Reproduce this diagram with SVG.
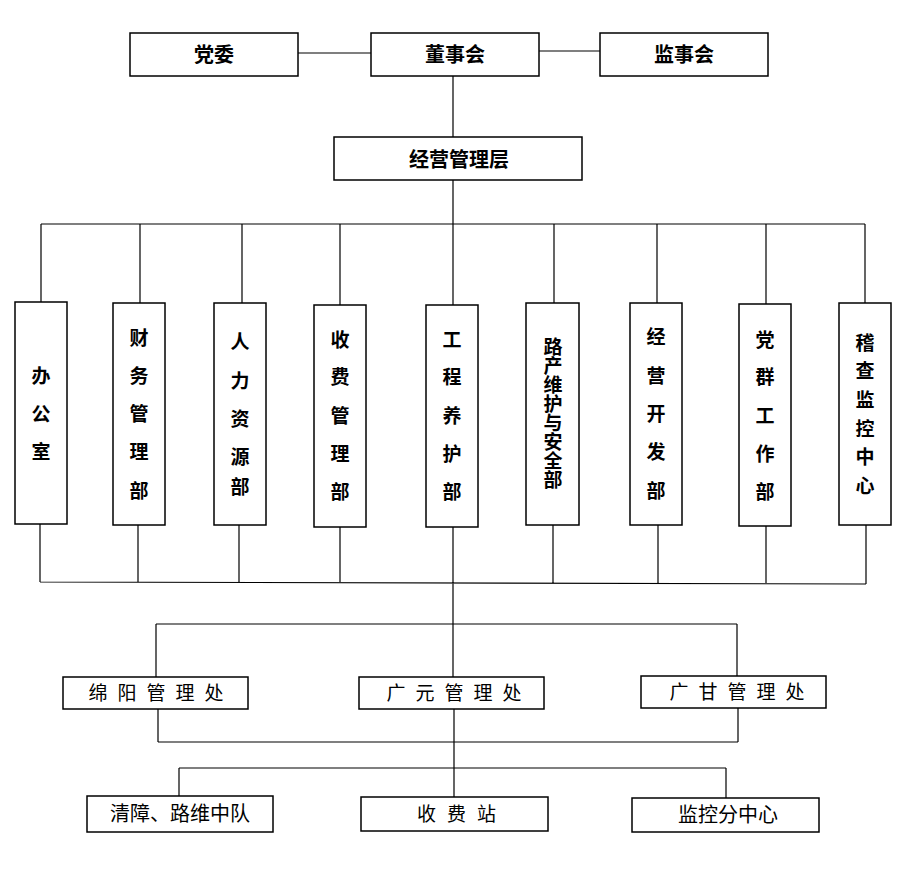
<svg xmlns="http://www.w3.org/2000/svg" width="908" height="871" viewBox="0 0 908 871">
<style>
.box{fill:#fff;stroke:#000;stroke-width:1.5}
.ln{fill:none;stroke:#000;stroke-width:1.2}
.tb{font-family:"Noto Sans CJK SC","Liberation Sans",sans-serif;font-weight:bold;font-size:20px;text-anchor:middle;fill:#000}
.tv{font-family:"Noto Sans CJK SC","Liberation Sans",sans-serif;font-weight:bold;font-size:19px;text-anchor:middle;fill:#000}
.tr{font-family:"Noto Sans CJK SC","Liberation Sans",sans-serif;font-weight:normal;font-size:19px;text-anchor:middle;fill:#000}
</style>
<rect width="908" height="871" fill="#fff"/>
<g id="connectors">
<path class="ln" d="M298 53H371M539 51H600M453 76V137M453 180V224M41 224H865M41 224V302M140 224V303M242 224V303M340 224V305M453 224V305M554 224V303M657 224V303M766 224V304M865 224V303"/>
<path class="ln" d="M40 524V582M138 525V582M239 525V582M340 527V582M453 527V624M553 525V583M658 525V583M766 526V583M866 525V584M40 582L866 584"/>
<path class="ln" d="M156 624H737M156 624V677M737 624V676M453 624V677"/>
<path class="ln" d="M158 709V742M738 708V742M158 742H738M454 709V797M179 768H726M179 768V796M726 768V798"/>
</g>
<g id="dangwei"><rect class="box" x="130" y="33" width="168" height="43"/><text class="tb" x="214" y="62">党委</text></g>
<g id="dongshihui"><rect class="box" x="371" y="33" width="168" height="43"/><text class="tb" x="455" y="62">董事会</text></g>
<g id="jianshihui"><rect class="box" x="600" y="33" width="168" height="43"/><text class="tb" x="684" y="62">监事会</text></g>
<g id="jingying"><rect class="box" x="334" y="137" width="248" height="43"/><text class="tb" x="459" y="167">经营管理层</text></g>
<g id="bangongshi"><rect class="box" x="15" y="302" width="52" height="222"/><text class="tv"><tspan x="41" y="383">办</tspan><tspan x="41" y="421">公</tspan><tspan x="41" y="459">室</tspan></text></g>
<g id="caiwu"><rect class="box" x="113" y="303" width="52" height="222"/><text class="tv"><tspan x="139" y="345">财</tspan><tspan x="139" y="383">务</tspan><tspan x="139" y="421">管</tspan><tspan x="139" y="459">理</tspan><tspan x="139" y="498">部</tspan></text></g>
<g id="renli"><rect class="box" x="214" y="303" width="52" height="222"/><text class="tv"><tspan x="240" y="349">人</tspan><tspan x="240" y="388">力</tspan><tspan x="240" y="426">资</tspan><tspan x="240" y="464">源</tspan><tspan x="240" y="494">部</tspan></text></g>
<g id="shoufei"><rect class="box" x="314" y="305" width="52" height="222"/><text class="tv"><tspan x="340" y="347">收</tspan><tspan x="340" y="384">费</tspan><tspan x="340" y="423">管</tspan><tspan x="340" y="461">理</tspan><tspan x="340" y="499">部</tspan></text></g>
<g id="gongcheng"><rect class="box" x="426" y="305" width="52" height="222"/><text class="tv"><tspan x="452" y="347">工</tspan><tspan x="452" y="384">程</tspan><tspan x="452" y="423">养</tspan><tspan x="452" y="461">护</tspan><tspan x="452" y="499">部</tspan></text></g>
<g id="luchan"><rect class="box" x="526" y="303" width="53" height="222"/><text class="tv" x="553" y="413" writing-mode="tb" style="font-size:19px">路产维护与安全部</text></g>
<g id="kaifa"><rect class="box" x="630" y="303" width="52" height="222"/><text class="tv"><tspan x="656" y="344">经</tspan><tspan x="656" y="383">营</tspan><tspan x="656" y="421">开</tspan><tspan x="656" y="459">发</tspan><tspan x="656" y="498">部</tspan></text></g>
<g id="dangqun"><rect class="box" x="739" y="304" width="52" height="222"/><text class="tv"><tspan x="765" y="347">党</tspan><tspan x="765" y="384">群</tspan><tspan x="765" y="423">工</tspan><tspan x="765" y="461">作</tspan><tspan x="765" y="499">部</tspan></text></g>
<g id="jicha"><rect class="box" x="839" y="303" width="52" height="222"/><text class="tv"><tspan x="865" y="350">稽</tspan><tspan x="865" y="378">查</tspan><tspan x="865" y="407">监</tspan><tspan x="865" y="436">控</tspan><tspan x="865" y="464">中</tspan><tspan x="865" y="493">心</tspan></text></g>
<g id="mianyang"><rect class="box" x="63" y="677" width="185" height="32"/><text class="tr" x="161" y="700" style="letter-spacing:10px">绵阳管理处</text></g>
<g id="guangyuan"><rect class="box" x="359" y="677" width="185" height="32"/><text class="tr" x="459" y="700" style="letter-spacing:10px">广元管理处</text></g>
<g id="guanggan"><rect class="box" x="641" y="676" width="185" height="32"/><text class="tr" x="742" y="699" style="letter-spacing:10px">广甘管理处</text></g>
<g id="qingzhang"><rect class="box" x="87" y="796" width="186" height="36"/><text class="tr" x="180" y="821" style="font-size:20px">清障、路维中队</text></g>
<g id="shoufeizhan"><rect class="box" x="361" y="797" width="187" height="34"/><text class="tr" x="462" y="821" style="letter-spacing:11px">收费站</text></g>
<g id="jiankong"><rect class="box" x="632" y="798" width="187" height="34"/><text class="tr" x="728" y="822" style="font-size:20px">监控分中心</text></g>
</svg>
